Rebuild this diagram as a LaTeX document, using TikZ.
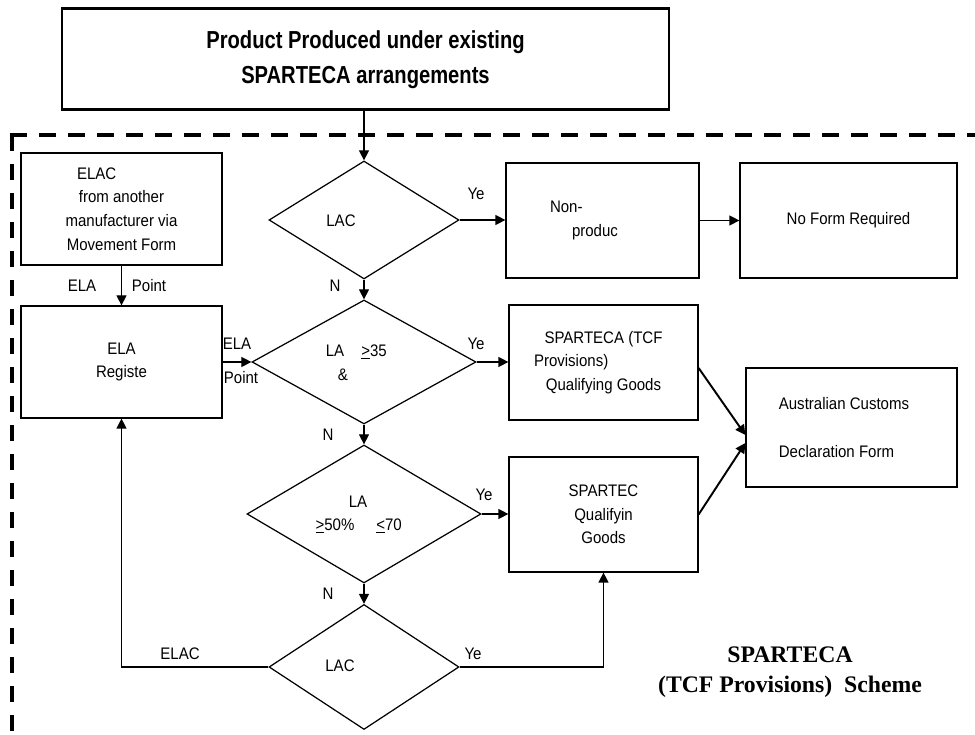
\documentclass[tikz,border=0pt]{standalone}
\usepackage{fontspec}
\setmainfont[FakeStretch=0.9]{Liberation Sans}
\newfontfamily\headfont[FakeStretch=0.82]{Liberation Sans}
\newfontfamily\schemefont{Liberation Serif}
\usetikzlibrary{calc,shapes.geometric,arrows.meta}
\newcommand{\flow}{\fontsize{9.5}{13.4}\selectfont}
\def\boxwdth{3.78}
\def\boxhght{2.3}
\def\sidewdth{4.02}
\def\sidehght{2.24}

\begin{document}
\begin{tikzpicture}[
  box/.style={draw, line width=0.7pt, minimum width=\boxwdth cm, minimum height=\boxhght cm, inner sep=0pt, align=center, font=\flow},
  decision/.style={draw, diamond, line width=0.7pt, inner sep=0pt},
  arr/.style={-{Triangle[length=0.2cm,width=0.2cm]}, line width=0.7pt},
  txt/.style={inner sep=0pt, text height=7pt, text depth=2pt, font=\flow}
]
\useasboundingbox (0,0) rectangle (19.5,14.7);

% SCHEME FRAME
\draw[line width=0.08cm, dash pattern=on 0.34cm off 0.24cm] (0.2,12.0) -- (20,12.0);
\draw[line width=0.08cm, dash pattern=on 0.32cm off 0.26cm] (0.24,12.0) -- (0.24,-0.5);

% PRODUCT
\node[box, line width=1.7pt, minimum width=12.14cm, minimum height=2.02cm, font=\headfont\bfseries\fontsize{14}{20}\selectfont] (prod) at (7.31,13.51) {Product Produced under existing\\SPARTECA arrangements};

% ELAC / ELA
\node[box, minimum width=\sidewdth cm, minimum height=\sidehght cm] (elac) at (2.43,10.52) {\makebox[1.78cm][l]{ELAC}\\from another\\manufacturer via\\Movement Form};
\node[box, minimum width=\sidewdth cm, minimum height=\sidehght cm] (ela) at (2.43,7.46) {ELA\\Registe};

% DECISIONS
\node[decision, minimum width=3.8cm, minimum height=2.36cm] (lac1) at (7.28,10.3) {};
\node[decision, minimum width=4.48cm, minimum height=2.48cm] (la35) at (7.28,7.46) {};
\node[decision, minimum width=4.68cm, minimum height=2.76cm] (la50) at (7.28,4.42) {};
\node[decision, minimum width=3.8cm, minimum height=2.5cm] (lac2) at (7.28,1.36) {};
\node[txt] (lac1t) at ($(lac1)+(-0.46,-0.04)$) {LAC};
\node[txt] (la35a) at ($(la35)+(-0.58,0.2)$) {LA};
\node[txt] (la35b) at ($(la35)+(0.2,0.2)$) {\underline{>}35};
\node[txt] (la35c) at ($(la35)+(-0.42,-0.28)$) {\&};
\node[txt] (la50a) at ($(la50)+(-0.12,0.22)$) {LA};
\node[txt] (la50b) at ($(la50)+(-0.58,-0.24)$) {\underline{>}50\%};
\node[txt] (la50c) at ($(la50)+(0.5,-0.24)$) {\underline{<}70};
\node[txt] (lac2t) at ($(lac2)+(-0.48,0)$) {LAC};

% OUTCOMES
\node[box, minimum width=3.86cm] (nonp) at (12.05,10.29) {\makebox[2.1cm][l]{Non-}\\\makebox[1.22cm][l]{produc}};
\node[box, minimum width=4.34cm] (nofm) at (16.97,10.29) {No Form Required};
\node[box] (tcf) at (12.07,7.45) {SPARTECA (TCF\\\makebox[2.78cm][l]{Provisions)}\\Qualifying Goods};
\node[box] (spq) at (12.07,4.41) {SPARTEC\\Qualifyin\\Goods};
\node[box, minimum width=4.22cm, minimum height=2.38cm, align=left] (acs) at (17.03,6.15) {Australian Customs\hspace*{0.3cm}\\[13.9pt]Declaration Form};
\node[align=center, inner sep=0pt, font=\schemefont\bfseries\fontsize{13.5}{17}\selectfont] (scheme) at (15.8,1.26) {SPARTECA\\(TCF Provisions)~~Scheme};

% CONNECTORS
\draw[arr] (prod.south -| lac1.north) -- (lac1.north);
\draw[arr] (elac) -- (ela);
\draw[arr] (ela) -- (la35);
\draw[arr] (lac1.east) -- (lac1.east -| nonp.west);
\draw[arr] (nonp) -- (nofm);
\draw[arr] (lac1.south) -- (la35.north);
\draw[arr] (la35.east) -- (la35.east -| tcf.west);
\draw[arr] (la35.south) -- (la50.north);
\draw[arr] (la50.east) -- (la50.east -| spq.west);
\draw[arr] (la50.south) -- (lac2.north);
\draw[arr] (lac2.west) -| (ela.south);
\draw[arr] (lac2.east) -| (spq.south);
\draw[arr, line width=1.1pt] ([yshift=-0.11cm]tcf.east) -- ([yshift=-0.15cm]acs.west);
\draw[arr, line width=1.1pt] (spq.east) -- ([yshift=-0.31cm]acs.west);

% LABELS
\node[txt] (ela1) at (1.64,8.96) {ELA};
\node[txt] (pnt1) at (2.98,8.96) {Point};
\node[txt] (ela2) at (4.74,7.8) {ELA};
\node[txt] (pnt2) at (4.82,7.12) {Point};
\node[txt] (ye1) at (9.52,10.8) {Ye};
\node[txt] (ye2) at (9.52,7.8) {Ye};
\node[txt] (ye3) at (9.68,4.78) {Ye};
\node[txt] (ye4) at (9.46,1.6) {Ye};
\node[txt] (no1) at (6.7,8.96) {N};
\node[txt] (no2) at (6.56,5.98) {N};
\node[txt] (no3) at (6.56,2.8) {N};
\node[txt] (elac2) at (3.6,1.6) {ELAC};
\end{tikzpicture}
\end{document}
